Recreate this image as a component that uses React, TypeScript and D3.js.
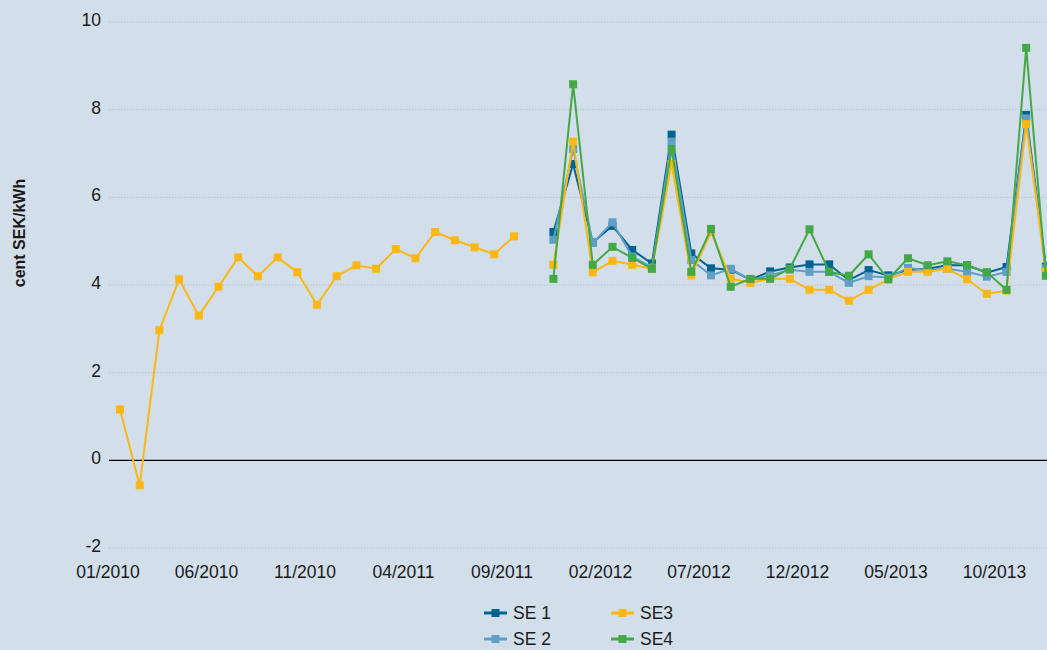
import React from "react";
import * as d3 from "d3";

const W = 1047;
const H = 650;

// month index 0 = 01/2010 ... 47 = 12/2013
const monthCount = 48;
const tickLabels = ["01/2010", "06/2010", "11/2010", "04/2011", "09/2011", "02/2012", "07/2012", "12/2012", "05/2013", "10/2013"];
const tickMonthIdx = [0, 5, 10, 15, 20, 25, 30, 35, 40, 45];
const yTicks = [-2, 0, 2, 4, 6, 8, 10];

const N = null;
const se1: (number | null)[] = [
  N, N, N, N, N, N, N, N, N, N, N, N, N, N, N, N, N, N, N, N, N, N,
  5.21, 6.76, 4.97, 5.35, 4.80, 4.49, 7.43, 4.72, 4.38, 4.35, 4.12, 4.31, 4.40, 4.47, 4.47, 4.11,
  4.34, 4.22, 4.34, 4.37, 4.45, 4.45, 4.28, 4.41, 7.88, 4.42,
];
const se2: (number | null)[] = [
  N, N, N, N, N, N, N, N, N, N, N, N, N, N, N, N, N, N, N, N, N, N,
  5.03, 7.10, 4.96, 5.43, 4.65, 4.40, 7.27, 4.57, 4.22, 4.37, 4.12, 4.22, 4.35, 4.30, 4.30, 4.05,
  4.20, 4.17, 4.39, 4.34, 4.37, 4.30, 4.19, 4.30, 7.80, 4.38,
];
const se3: (number | null)[] = [
  1.16, -0.57, 2.97, 4.13, 3.30, 3.96, 4.63, 4.20, 4.63, 4.29, 3.55, 4.20, 4.45, 4.37, 4.82, 4.61,
  5.21, 5.02, 4.86, 4.70, 5.11, N,
  4.46, 7.27, 4.29, 4.55, 4.46, 4.37, 6.76, 4.22, 5.21, 4.15, 4.05, 4.14, 4.14, 3.89, 3.89, 3.64,
  3.89, 4.13, 4.30, 4.30, 4.37, 4.13, 3.80, 3.87, 7.67, 4.30,
];
const se4: (number | null)[] = [
  N, N, N, N, N, N, N, N, N, N, N, N, N, N, N, N, N, N, N, N, N, N,
  4.14, 8.58, 4.46, 4.87, 4.62, 4.37, 7.10, 4.30, 5.28, 3.96, 4.14, 4.14, 4.37, 5.27, 4.30, 4.21,
  4.70, 4.13, 4.61, 4.45, 4.54, 4.45, 4.29, 3.89, 9.41, 4.21,
];

const seriesNames = ["SE 1", "SE 2", "SE3", "SE4"];
const seriesColors = ["#00628f", "#5f9fc7", "#fbb713", "#44a846"];
const seriesData = [se1, se2, se3, se4];

const FONT = "'Liberation Sans', Arial, sans-serif";

export default function App() {
  const x = d3.scaleLinear().domain([0, monthCount - 1]).range([120, 120 + (monthCount - 1) * 19.7]);
  const y = d3.scaleLinear().domain([-2, 10]).range([548, 22]);
  const plotLeft = 109;

  const line = d3
    .line<number | null>()
    .defined((d) => d !== null)
    .x((_, i) => x(i))
    .y((d) => y(d as number));

  const legendPos = [
    { x: 484, y: 613 },
    { x: 484, y: 639 },
    { x: 611, y: 613 },
    { x: 611, y: 639 },
  ];

  return (
    <svg
      width={W}
      height={H}
      style={{ position: "absolute", left: 0, top: 0, background: "#d2dfeb" }}
      fontFamily={FONT}
    >
      <rect x={0} y={0} width={W} height={H} fill="#d2dfeb" />
      {yTicks.map((t) => (
        <g key={t}>
          {t !== 0 && (
            <line
              x1={plotLeft}
              x2={W}
              y1={y(t)}
              y2={y(t)}
              stroke="#bcc4cb"
              strokeWidth={1}
              strokeDasharray="1.5,1.5"
            />
          )}
          <text x={101} y={y(t) - 2} dy="0.35em" textAnchor="end" fontSize={17.5} fill="#1a1a1a">
            {t}
          </text>
        </g>
      ))}
      <line x1={plotLeft} x2={W} y1={y(0)} y2={y(0)} stroke="#000" strokeWidth={1.3} />
      {tickMonthIdx.map((m, i) => (
        <text key={m} x={x(m) - 12} y={578} textAnchor="middle" fontSize={17.5} fill="#1a1a1a">
          {tickLabels[i]}
        </text>
      ))}
      <text
        transform={`translate(25,${233}) rotate(-90)`}
        textAnchor="middle"
        fontSize={16}
        fontWeight="bold"
        fill="#1a1a1a"
      >
        cent SEK/kWh
      </text>
      {seriesData.map((data, si) => (
        <g key={si}>
          <path d={line(data) || ""} fill="none" stroke={seriesColors[si]} strokeWidth={2} />
          {data.map((d, i) =>
            d === null ? null : (
              <rect key={i} x={x(i) - 4} y={y(d) - 4} width={8} height={8} fill={seriesColors[si]} />
            )
          )}
        </g>
      ))}
      {seriesNames.map((name, si) => (
        <g key={name}>
          <line
            x1={legendPos[si].x}
            x2={legendPos[si].x + 23}
            y1={legendPos[si].y}
            y2={legendPos[si].y}
            stroke={seriesColors[si]}
            strokeWidth={3}
          />
          <rect x={legendPos[si].x + 7.5} y={legendPos[si].y - 4} width={8} height={8} fill={seriesColors[si]} />
          <text x={legendPos[si].x + 29} y={legendPos[si].y} dy="0.35em" fontSize={17.5} fill="#1a1a1a">
            {name}
          </text>
        </g>
      ))}
    </svg>
  );
}
